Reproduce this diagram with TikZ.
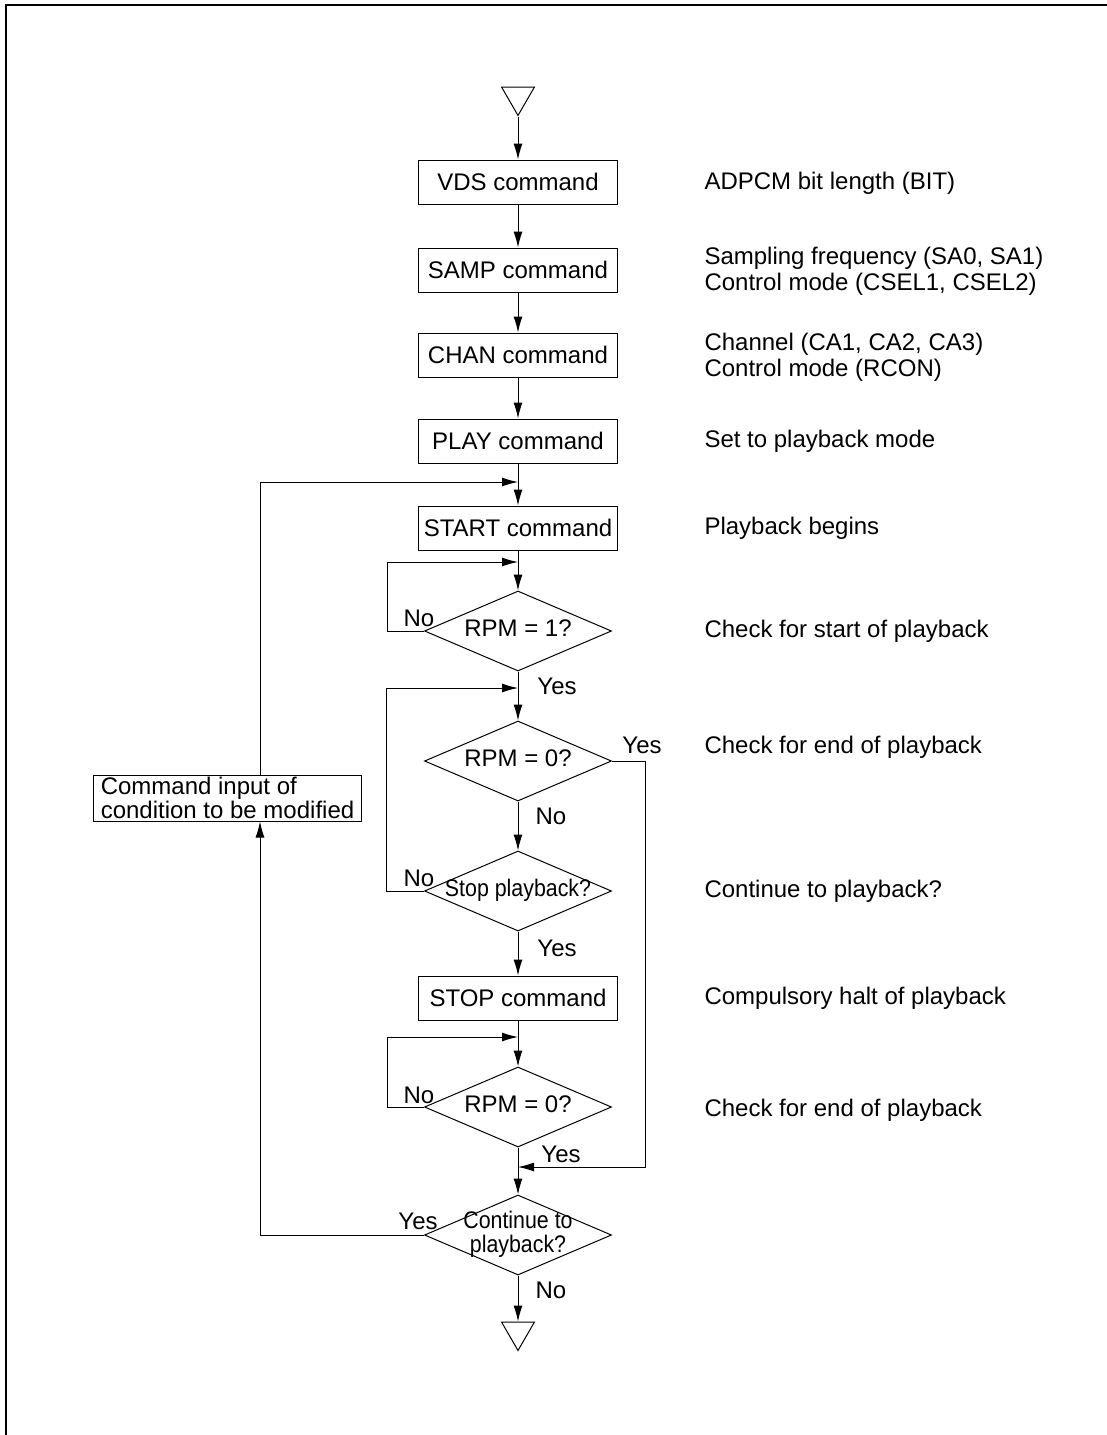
\documentclass[tikz,border=0pt]{standalone}
\usepackage{fontspec}
\setmainfont{Liberation Sans}
\newfontfamily\narrowfont{Liberation Sans}[FakeStretch=0.89]
\usetikzlibrary{arrows.meta, shapes.geometric}

% text of a decision box, kept out of the shape size
\newcommand{\dtext}[1]{\makebox[0pt]{\begin{tabular}{@{}c@{}}#1\end{tabular}}}

\begin{document}
\begin{tikzpicture}[
  x=0.5pt, y=-0.5pt,
  line width=0.5pt,
  box/.style={draw, minimum width=99.5pt, minimum height=22pt, inner sep=0pt, font=\fontsize{12}{14}\selectfont},
  dec/.style={draw, diamond, minimum width=93.5pt, minimum height=40pt, inner sep=0pt, font=\fontsize{12}{11}\selectfont},
  term/.style={draw, regular polygon, regular polygon sides=3, shape border rotate=180, minimum size=19pt, inner sep=0pt},
  note/.style={anchor=west, align=left, inner sep=0pt, font=\fontsize{12}{13}\selectfont},
  yn/.style={inner sep=0pt, font=\fontsize{12}{14}\selectfont},
  arrow/.style={-{Latex[length=8pt, width=4.5pt]}}
]
  \useasboundingbox (0,0) rectangle (1107,1435);
  \draw[line width=1pt] (6,1435) -- (6,5) -- (1107,5);

  % main column
  \node[term] (t1) at (518,96.5) {};
  \node[box] (b1) at (518,182) {VDS command};
  \node[box] (b2) at (518,270) {SAMP command};
  \node[box] (b3) at (518,355) {CHAN command};
  \node[box] (b4) at (518,441) {PLAY command};
  \node[box] (b5) at (518,528) {START command};
  \node[dec] (d1) at (518,631) {\dtext{RPM = 1?}};
  \node[dec] (d2) at (518,761) {\dtext{RPM = 0?}};
  \node[dec, font=\narrowfont\fontsize{12}{11}\selectfont] (d3) at (518,891) {\dtext{Stop playback?}};
  \node[box] (b6) at (518,998) {STOP command};
  \node[dec] (d4) at (518,1107) {\dtext{RPM = 0?}};
  \node[dec, font=\narrowfont\fontsize{12}{11}\selectfont] (d5) at (518,1235) {\dtext{Continue to\\playback?}};
  \node[term] (t2) at (518,1331.5) {};

  \node[draw, align=left, inner xsep=3.5pt, inner ysep=1pt, minimum height=22pt,
        font=\fontsize{12}{10}\selectfont] (cmd) at (227.5,798) {Command input of\\condition to be modified};

  \coordinate (cx) at (260,482);
  \coordinate (j0) at (518,482);
  \coordinate (j1) at (518,562);
  \coordinate (j2) at (518,688);
  \coordinate (j3) at (518,1037);
  \coordinate (j4) at (518,1167);

  \draw[arrow] (t1.corner 1) -- (b1.north);
  \draw[arrow] (b1) -- (b2);
  \draw[arrow] (b2) -- (b3);
  \draw[arrow] (b3) -- (b4);
  \draw[arrow] (b4) -- (b5);
  \draw[arrow] (b5) -- (d1);
  \draw[arrow] (d1) -- (d2);
  \draw[arrow] (d2) -- (d3);
  \draw[arrow] (d3) -- (b6);
  \draw[arrow] (b6) -- (d4);
  \draw[arrow] (d4) -- (d5);
  \draw[arrow] (d5) -- (t2);

  % loops
  \draw[arrow] (d1.west) -- ++(-37,0) |- (j1);
  \draw[arrow] (d3.west) -- ++(-38,0) |- (j2);
  \draw[arrow] (d4.west) -- ++(-37,0) |- (j3);
  \draw[arrow] (d2.east) -- ++(33,0) |- (j4);
  \draw[arrow] (d5.west) -| (cmd.south -| cx);
  \draw[arrow] (cmd.north -| cx) |- (j0);

  % Yes / No
  \node[yn] (l1) at (419,618) {No};
  \node[yn] (l2) at (557,686) {Yes};
  \node[yn] (l3) at (642,745) {Yes};
  \node[yn] (l4) at (551,816) {No};
  \node[yn] (l5) at (419,878) {No};
  \node[yn] (l6) at (557,948) {Yes};
  \node[yn] (l7) at (419,1095) {No};
  \node[yn] (l8) at (561,1154) {Yes};
  \node[yn] (l9) at (418,1221) {Yes};
  \node[yn] (l10) at (551,1290) {No};

  % notes
  \node[note] (n1) at (704,183) {ADPCM bit length (BIT)};
  \node[note] (n2) at (704,271) {Sampling frequency (SA0, SA1)\\Control mode (CSEL1, CSEL2)};
  \node[note] (n3) at (704,357) {Channel (CA1, CA2, CA3)\\Control mode (RCON)};
  \node[note] (n4) at (704,441) {Set to playback mode};
  \node[note] (n5) at (704,528) {Playback begins};
  \node[note] (n6) at (704,631) {Check for start of playback};
  \node[note] (n7) at (704,747) {Check for end of playback};
  \node[note] (n8) at (704,891) {Continue to playback?};
  \node[note] (n9) at (704,998) {Compulsory halt of playback};
  \node[note] (n10) at (704,1110) {Check for end of playback};
\end{tikzpicture}
\end{document}
